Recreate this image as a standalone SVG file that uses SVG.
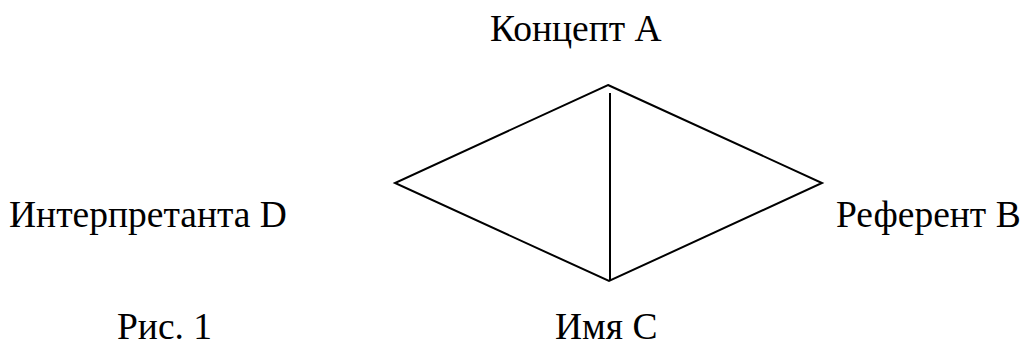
<svg xmlns="http://www.w3.org/2000/svg" width="1025" height="350" viewBox="0 0 1025 350">
<style>
text{font-family:"Liberation Serif","Times New Roman",serif;font-size:37.5px;fill:#000}
.ln{stroke:#000;stroke-width:2;fill:none;stroke-linejoin:miter}
</style>
<rect width="1025" height="350" fill="#fff"/>
<g id="connectors">
<polygon class="ln" points="608,85 822,183 609,281 395,183"/>
<line class="ln" x1="610" y1="93" x2="610" y2="281"/>
</g>
<g id="nodeA"><text x="490" y="41">Концепт А</text></g>
<g id="nodeB"><text x="836" y="227">Референт B</text></g>
<g id="nodeC"><text x="555" y="339">Имя С</text></g>
<g id="nodeD"><text x="9" y="227">Интерпретанта D</text></g>
<g id="caption"><text x="117" y="339">Рис. 1</text></g>
</svg>
